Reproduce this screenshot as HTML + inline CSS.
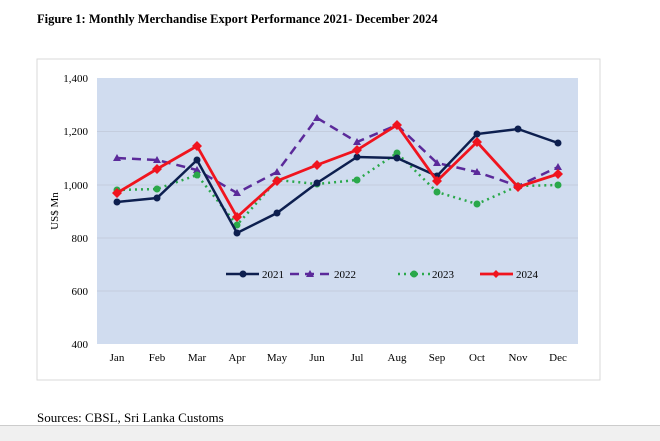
<!DOCTYPE html>
<html><head><style>
body{margin:0;width:660px;height:440px;background:#fff;overflow:hidden;position:relative;font-family:"Liberation Serif",serif;}
.t{position:absolute;left:37px;top:12px;font-weight:bold;font-size:12.5px;}
.s{position:absolute;left:37px;top:410px;font-size:13px;}
.b{position:absolute;left:0;top:425px;width:660px;height:15px;background:#f0f0f0;border-top:1px solid #ccc;}
</style></head><body>
<div class="t">Figure 1: Monthly Merchandise Export Performance 2021- December 2024</div>
<svg width="660" height="440" style="position:absolute;left:0;top:0" font-family="Liberation Serif, serif" font-size="11">
<rect x="37" y="59" width="563" height="321" fill="#fff" stroke="#d9d9d9"/>
<rect x="97" y="78" width="481" height="266" fill="#d0dcef"/>
<g stroke="#c0c8d8" stroke-width="0.8">
<line x1="97" x2="578" y1="131.5" y2="131.5"/><line x1="97" x2="578" y1="185" y2="185"/><line x1="97" x2="578" y1="238" y2="238"/><line x1="97" x2="578" y1="291" y2="291"/></g>
<g text-anchor="end" fill="#000">
<text x="88" y="82">1,400</text><text x="88" y="135">1,200</text><text x="88" y="189">1,000</text><text x="88" y="242">800</text><text x="88" y="295">600</text><text x="88" y="348">400</text></g>
<text transform="translate(58,211) rotate(-90)" text-anchor="middle">US$ Mn</text>
<g text-anchor="middle">
<text x="117" y="361">Jan</text><text x="157" y="361">Feb</text><text x="197" y="361">Mar</text><text x="237" y="361">Apr</text><text x="277" y="361">May</text><text x="317" y="361">Jun</text><text x="357" y="361">Jul</text><text x="397" y="361">Aug</text><text x="437" y="361">Sep</text><text x="477" y="361">Oct</text><text x="518" y="361">Nov</text><text x="558" y="361">Dec</text></g>
<polyline fill="none" stroke="#5b2a9a" stroke-width="2.5" stroke-dasharray="9,6" points="117,158 157,160 197,170 237,193 277,172 317,118 357,142 397,125 437,163 477,172 518,186 558,167"/>
<g fill="#5b2a9a"><path d="M117,154l4,7h-8z M157,156l4,7h-8z M197,166l4,7h-8z M237,189l4,7h-8z M277,168l4,7h-8z M317,114l4,7h-8z M357,138l4,7h-8z M397,121l4,7h-8z M437,159l4,7h-8z M477,168l4,7h-8z M518,182l4,7h-8z M558,163l4,7h-8z"/></g>
<polyline fill="none" stroke="#2aa84a" stroke-width="2.5" stroke-dasharray="2,4" points="117,190 157,189 197,175 237,225 277,180 317,184 357,180 397,153 437,192 477,204 518,186 558,185"/>
<g fill="#2aa84a"><circle cx="117" cy="190" r="3.5"/><circle cx="157" cy="189" r="3.5"/><circle cx="197" cy="175" r="3.5"/><circle cx="237" cy="225" r="3.5"/><circle cx="277" cy="180" r="3.5"/><circle cx="317" cy="184" r="3.5"/><circle cx="357" cy="180" r="3.5"/><circle cx="397" cy="153" r="3.5"/><circle cx="437" cy="192" r="3.5"/><circle cx="477" cy="204" r="3.5"/><circle cx="518" cy="186" r="3.5"/><circle cx="558" cy="185" r="3.5"/></g>
<polyline fill="none" stroke="#0d1f4f" stroke-width="2.5" points="117,202 157,198 197,160 237,233 277,213 317,183 357,157 397,158 437,176 477,134 518,129 558,143"/>
<g fill="#0d1f4f"><circle cx="117" cy="202" r="3.5"/><circle cx="157" cy="198" r="3.5"/><circle cx="197" cy="160" r="3.5"/><circle cx="237" cy="233" r="3.5"/><circle cx="277" cy="213" r="3.5"/><circle cx="317" cy="183" r="3.5"/><circle cx="357" cy="157" r="3.5"/><circle cx="397" cy="158" r="3.5"/><circle cx="437" cy="176" r="3.5"/><circle cx="477" cy="134" r="3.5"/><circle cx="518" cy="129" r="3.5"/><circle cx="558" cy="143" r="3.5"/></g>
<polyline fill="none" stroke="#f0141e" stroke-width="2.8" points="117,193 157,169 197,146 237,217 277,181 317,165 357,150 397,125 437,181 477,142 518,187 558,174"/>
<g fill="#f0141e"><path d="M117,188l5,5l-5,5l-5,-5z M157,164l5,5l-5,5l-5,-5z M197,141l5,5l-5,5l-5,-5z M237,212l5,5l-5,5l-5,-5z M277,176l5,5l-5,5l-5,-5z M317,160l5,5l-5,5l-5,-5z M357,145l5,5l-5,5l-5,-5z M397,120l5,5l-5,5l-5,-5z M437,176l5,5l-5,5l-5,-5z M477,137l5,5l-5,5l-5,-5z M518,182l5,5l-5,5l-5,-5z M558,169l5,5l-5,5l-5,-5z"/></g>
<line x1="226" x2="259" y1="274" y2="274" stroke="#0d1f4f" stroke-width="2.5"/><circle cx="243" cy="274" r="3.5" fill="#0d1f4f"/><text x="262" y="278">2021</text>
<line x1="290" x2="330" y1="274" y2="274" stroke="#5b2a9a" stroke-width="2.5" stroke-dasharray="9,6"/><path d="M310,270l4,7h-8z" fill="#5b2a9a"/><text x="334" y="278">2022</text>
<line x1="398" x2="430" y1="274" y2="274" stroke="#2aa84a" stroke-width="2.5" stroke-dasharray="2,4"/><circle cx="414" cy="274" r="3.5" fill="#2aa84a"/><text x="432" y="278">2023</text>
<line x1="480" x2="513" y1="274" y2="274" stroke="#f0141e" stroke-width="2.8"/><path d="M496,270l4,4l-4,4l-4,-4z" fill="#f0141e"/><text x="516" y="278">2024</text>
</svg>
<div class="s">Sources: CBSL, Sri Lanka Customs</div>
<div class="b"></div>
</body></html>
